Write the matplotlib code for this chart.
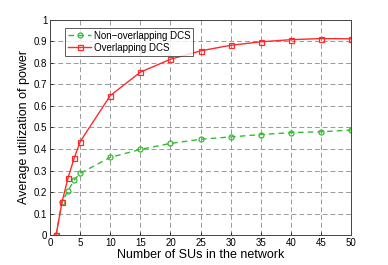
import matplotlib
matplotlib.use('Agg')
import matplotlib.pyplot as plt

# number of SUs
n_sus = [1, 2, 3, 4, 5, 10, 15, 20, 25, 30, 35, 40, 45, 50]
# average utilization of power
non_overlap = [0, 0.155, 0.206, 0.256, 0.287, 0.361, 0.398, 0.426, 0.445, 0.456, 0.467, 0.476, 0.480, 0.488]
overlap = [0, 0.155, 0.267, 0.357, 0.434, 0.648, 0.757, 0.817, 0.856, 0.882, 0.898, 0.908, 0.913, 0.912]

plt.rcParams['font.family'] = ['Liberation Sans', 'DejaVu Sans']

fig = plt.figure(figsize=(3.88, 2.65), dpi=100)
ax = fig.add_axes([0.129, 0.113, 0.776, 0.812])

ax.plot(n_sus, non_overlap, color='#33bb33', lw=1.0, ls=(0, (4, 3)),
        marker='o', ms=3.6, mfc='none', mew=0.9, label='Non\u2212overlapping DCS')
ax.plot(n_sus, overlap, '-s', color='#ff2a2a', lw=1.0, ms=3.6,
        mfc='none', mew=0.9, label='Overlapping DCS')

ax.set_xlim(0, 50)
ax.set_ylim(0, 1)
ax.set_xticks(range(0, 51, 5))
ax.set_yticks([0, 0.1, 0.2, 0.3, 0.4, 0.5, 0.6, 0.7, 0.8, 0.9, 1])
ax.set_yticklabels(['0', '0.1', '0.2', '0.3', '0.4', '0.5', '0.6', '0.7', '0.8', '0.9', '1'])
ax.tick_params(labelsize=7, direction='in', length=2.5, width=0.5, pad=2)
ax.grid(True, linestyle=(0, (5, 3)), color='#999999', lw=0.7)
for s in ax.spines.values():
    s.set_linewidth(0.7)
    s.set_color('#444444')

ax.set_xlabel('Number of SUs in the network', fontsize=9, labelpad=1)
ax.set_ylabel('Average utilization of power', fontsize=9, labelpad=3)

leg = ax.legend(loc='upper left', fontsize=7, frameon=True, fancybox=False,
                edgecolor='#333333', borderpad=0.3, labelspacing=0.2,
                handlelength=2.3, handletextpad=0.3,
                bbox_to_anchor=(0.035, 0.985))
leg.get_frame().set_linewidth(0.7)

fig.savefig('out.png', dpi=100)
